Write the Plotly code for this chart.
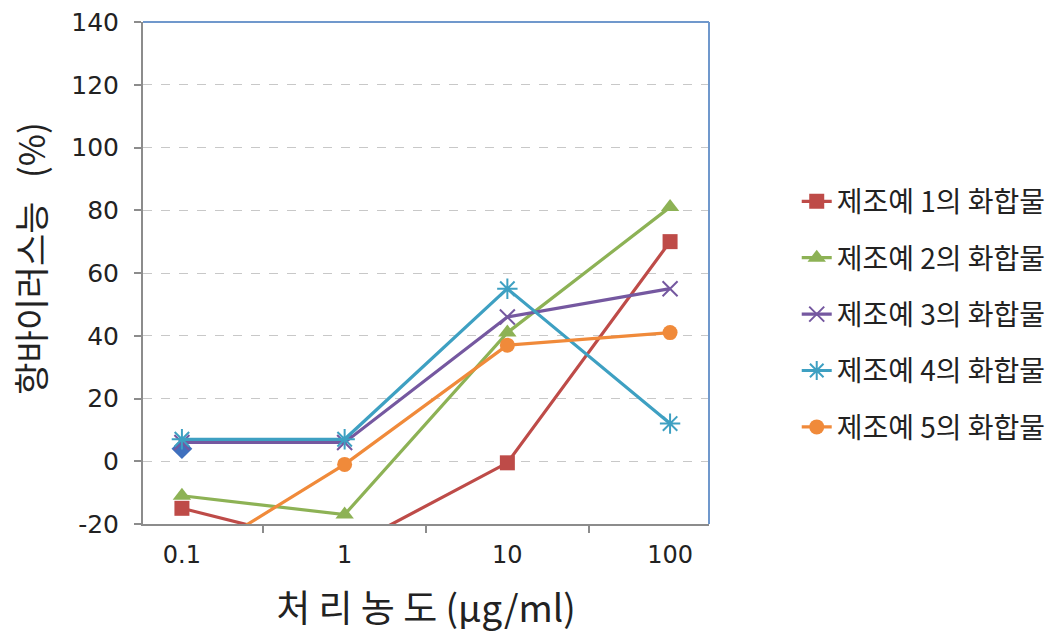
import plotly.graph_objects as go

categories = ["0.1", "1", "10", "100"]
series_names = ["제조예 1의 화합물", "제조예 2의 화합물", "제조예 3의 화합물",
                "제조예 4의 화합물", "제조예 5의 화합물"]
s1 = [-15, -28, -0.5, 70]
s2 = [-11, -17, 41, 81]
s3 = [6, 6, 46, 55]
s4 = [7, 7, 55, 12]
s5 = [-33, -1, 37, 41]
extra = [4, None, None, None]  # stray blue diamond point
y_ticks = [-20, 0, 20, 40, 60, 80, 100, 120, 140]
y_tick_text = ["-20", "0", "20", "40", "60", "80", "100", "120", "140"]

colors = ["#BE4B48", "#8DB255", "#7558A0", "#3EA0C2", "#F08A3A"]
symbols = ["square", "triangle-up", "x-thin-open", "asterisk-open", "circle"]
sizes = [15, 16, 15, 17, 15]

FONT = "Noto Sans CJK KR"
NUMFONT = "DejaVu Sans"
fig = go.Figure()

fig.add_trace(go.Scatter(x=categories, y=extra, mode="markers",
                         marker=dict(symbol="diamond", size=16, color="#3F70BE"),
                         showlegend=False))

for i, (name, vals) in enumerate(zip(series_names, [s1, s2, s3, s4, s5])):
    mk = dict(symbol=symbols[i], size=sizes[i], color=colors[i])
    if symbols[i].endswith("open"):
        mk["line"] = dict(color=colors[i], width=2)
    fig.add_trace(go.Scatter(x=categories, y=vals, name=name, mode="lines+markers",
                             line=dict(color=colors[i], width=3.2), marker=mk,
                             legendgroup=f"g{i}"))

fig.update_layout(
    width=1063, height=642,
    margin=dict(l=143, r=354, t=22, b=118),
    paper_bgcolor="white", plot_bgcolor="white",
    font=dict(family=FONT, color="#222222"),
    legend=dict(x=1.155, y=0.692, xanchor="left", yanchor="top",
                font=dict(size=28, family=FONT, color="#222222"),
                tracegroupgap=17, bgcolor="rgba(0,0,0,0)"),
    xaxis=dict(type="category", automargin=False, showline=True, linecolor="#8C8C8C", linewidth=2,
               ticks="outside", tickson="boundaries", ticklen=7, tickcolor="#8C8C8C",
               tickwidth=2, showgrid=False, ticklabelstandoff=8,
               tickfont=dict(size=24, family=NUMFONT, color="#222222"),
               title=dict(text="처 리 농 도 (μg/ml)", font=dict(size=37, family=FONT, color="#222222"),
                          standoff=28)),
    yaxis=dict(range=[-20, 140], tickvals=y_ticks, ticktext=y_tick_text, automargin=False,
               showline=True, linecolor="#8C8C8C", linewidth=2,
               ticks="outside", ticklen=7, tickcolor="#8C8C8C", tickwidth=2,
               showgrid=True, gridcolor="#C8C8C8", griddash="dash", gridwidth=1,
               zeroline=False, ticklabelstandoff=10,
               tickfont=dict(size=25, family=NUMFONT, color="#222222")),
    annotations=[dict(text="항바이러스능   (%)", textangle=-90, xref="paper", yref="paper",
                      x=-0.2, y=0.53, xanchor="center", yanchor="middle", showarrow=False,
                      font=dict(size=35, family=FONT, color="#222222"))],
)

fig.add_shape(type="line", xref="paper", yref="paper", x0=0, y0=1, x1=1, y1=1,
              line=dict(color="#7098CC", width=2))
fig.add_shape(type="line", xref="paper", yref="paper", x0=1, y0=0, x1=1, y1=1,
              line=dict(color="#7098CC", width=2))

fig.write_html("out.html")
